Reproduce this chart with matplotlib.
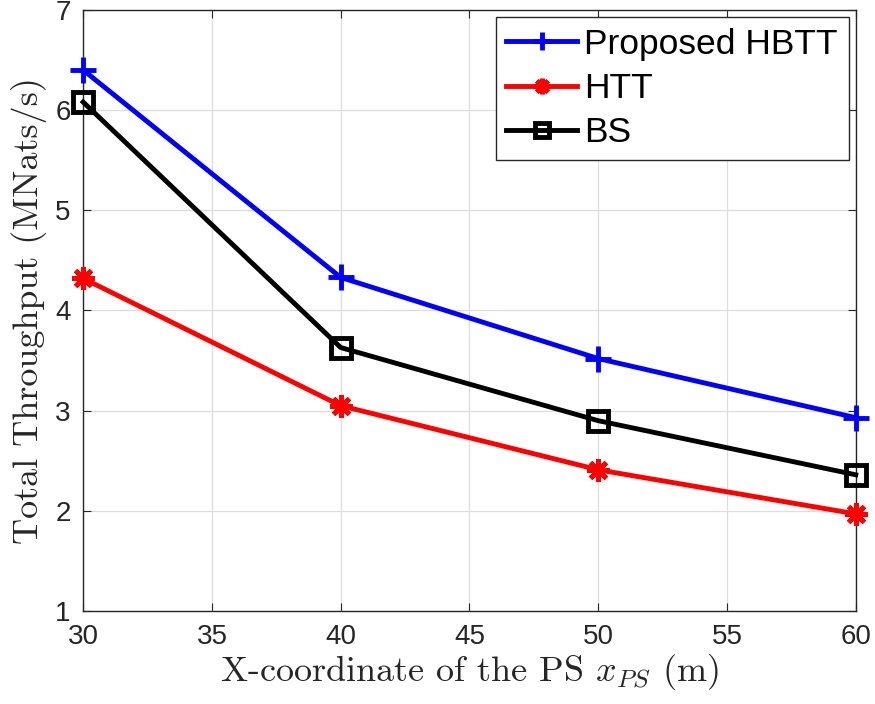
import matplotlib
matplotlib.use("Agg")
import matplotlib.pyplot as plt

x_ps = [30, 40, 50, 60]
hbtt = [6.40, 4.33, 3.52, 2.93]
htt = [4.32, 3.05, 2.41, 1.97]
bs = [6.08, 3.63, 2.90, 2.36]

plt.rcParams["font.family"] = ["Liberation Sans", "DejaVu Sans"]
plt.rcParams["mathtext.fontset"] = "cm"

fig = plt.figure(figsize=(8.75, 7.04), dpi=100)
ax = fig.add_axes([0.095, 0.132, 0.883, 0.854])

ax.plot(x_ps, hbtt, color="blue", linewidth=3.5, marker="+", markersize=19,
        markeredgewidth=3.5, label="Proposed HBTT", clip_on=False, zorder=3)
ax.plot(x_ps, htt, color="red", linewidth=3.5, marker=(8, 2, 0), markersize=16,
        markeredgewidth=3.5, label="HTT", clip_on=False, zorder=3)
ax.plot(x_ps, bs, color="black", linewidth=3.5, marker="s", markersize=15,
        markerfacecolor="none", markeredgewidth=3.5, label="BS", clip_on=False,
        zorder=3)

ax.set_xlim(30, 60)
ax.set_ylim(1, 7)
ax.set_xticks(range(30, 61, 5))
ax.set_yticks(range(1, 8))
ax.tick_params(direction="in", top=True, right=True, labelsize=20, length=6,
               color="#262626", labelcolor="#262626", pad=9)
for s in ax.spines.values():
    s.set_color("#262626")
    s.set_linewidth(1.0)
ax.grid(True, color="#dddddd", linewidth=0.9)
ax.set_axisbelow(True)

ax.set_xlabel("X-coordinate of the PS $x_{PS}$ (m)", fontsize=26,
              family="cmr10", color="#262626", labelpad=2)
ax.set_ylabel("Total Throughput (MNats/s)", fontsize=26,
              family="cmr10", color="#262626", labelpad=6)

leg = ax.legend(loc="upper right", fontsize=25.5, frameon=True, fancybox=False,
                edgecolor="#262626", framealpha=1, borderpad=0.3,
                handlelength=2.0, handletextpad=0.2, labelspacing=0.32,
                borderaxespad=0.2, markerscale=0.7)
leg.get_frame().set_linewidth(1.0)

plt.savefig("out.png", dpi=100)
